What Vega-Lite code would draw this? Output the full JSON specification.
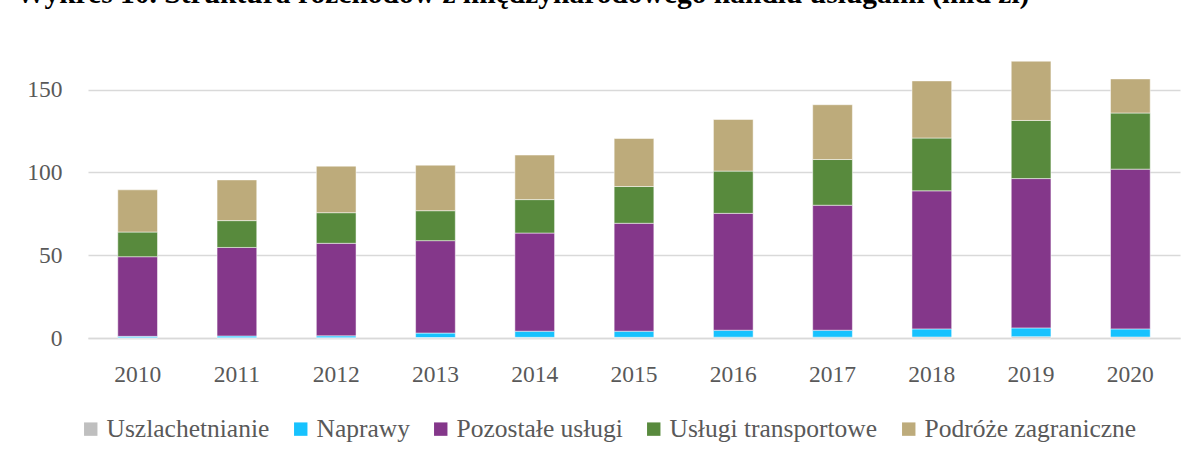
{
  "$schema": "https://vega.github.io/schema/vega-lite/v6.json",
  "autosize": {"type": "none"},
  "padding": {"left": 88, "top": 40, "right": 15, "bottom": 122},
  "width": 1092,
  "height": 298,
  "background": "white",
  "title": {
    "text": "Wykres 10. Struktura rozchodów z międzynarodowego handlu usługami (mld zł)",
    "anchor": "start",
    "frame": "group",
    "orient": "top",
    "baseline": "alphabetic",
    "offset": 27,
    "dx": -72,
    "dy": 19,
    "font": "Liberation Serif",
    "fontSize": 29.5,
    "fontWeight": "bold",
    "color": "#000000"
  },
  "data": {
    "values": [
      {"rok": "2010", "kategoria": "Uszlachetnianie", "o": 1, "wartosc": 0.2},
      {"rok": "2010", "kategoria": "Naprawy", "o": 2, "wartosc": 0.8},
      {"rok": "2010", "kategoria": "Pozostałe usługi", "o": 3, "wartosc": 48.1},
      {"rok": "2010", "kategoria": "Usługi transportowe", "o": 4, "wartosc": 14.9},
      {"rok": "2010", "kategoria": "Podróże zagraniczne", "o": 5, "wartosc": 25.5},
      {"rok": "2011", "kategoria": "Uszlachetnianie", "o": 1, "wartosc": 0.2},
      {"rok": "2011", "kategoria": "Naprawy", "o": 2, "wartosc": 1.0},
      {"rok": "2011", "kategoria": "Pozostałe usługi", "o": 3, "wartosc": 53.5},
      {"rok": "2011", "kategoria": "Usługi transportowe", "o": 4, "wartosc": 16.2},
      {"rok": "2011", "kategoria": "Podróże zagraniczne", "o": 5, "wartosc": 24.6},
      {"rok": "2012", "kategoria": "Uszlachetnianie", "o": 1, "wartosc": 0.2},
      {"rok": "2012", "kategoria": "Naprawy", "o": 2, "wartosc": 1.1},
      {"rok": "2012", "kategoria": "Pozostałe usługi", "o": 3, "wartosc": 55.9},
      {"rok": "2012", "kategoria": "Usługi transportowe", "o": 4, "wartosc": 18.5},
      {"rok": "2012", "kategoria": "Podróże zagraniczne", "o": 5, "wartosc": 28.1},
      {"rok": "2013", "kategoria": "Uszlachetnianie", "o": 1, "wartosc": 0.3},
      {"rok": "2013", "kategoria": "Naprawy", "o": 2, "wartosc": 2.7},
      {"rok": "2013", "kategoria": "Pozostałe usługi", "o": 3, "wartosc": 55.8},
      {"rok": "2013", "kategoria": "Usługi transportowe", "o": 4, "wartosc": 18.1},
      {"rok": "2013", "kategoria": "Podróże zagraniczne", "o": 5, "wartosc": 27.5},
      {"rok": "2014", "kategoria": "Uszlachetnianie", "o": 1, "wartosc": 0.4},
      {"rok": "2014", "kategoria": "Naprawy", "o": 2, "wartosc": 3.7},
      {"rok": "2014", "kategoria": "Pozostałe usługi", "o": 3, "wartosc": 59.3},
      {"rok": "2014", "kategoria": "Usługi transportowe", "o": 4, "wartosc": 20.2},
      {"rok": "2014", "kategoria": "Podróże zagraniczne", "o": 5, "wartosc": 26.9},
      {"rok": "2015", "kategoria": "Uszlachetnianie", "o": 1, "wartosc": 0.4},
      {"rok": "2015", "kategoria": "Naprawy", "o": 2, "wartosc": 3.7},
      {"rok": "2015", "kategoria": "Pozostałe usługi", "o": 3, "wartosc": 65.2},
      {"rok": "2015", "kategoria": "Usługi transportowe", "o": 4, "wartosc": 22.2},
      {"rok": "2015", "kategoria": "Podróże zagraniczne", "o": 5, "wartosc": 29.0},
      {"rok": "2016", "kategoria": "Uszlachetnianie", "o": 1, "wartosc": 0.5},
      {"rok": "2016", "kategoria": "Naprawy", "o": 2, "wartosc": 4.2},
      {"rok": "2016", "kategoria": "Pozostałe usługi", "o": 3, "wartosc": 70.6},
      {"rok": "2016", "kategoria": "Usługi transportowe", "o": 4, "wartosc": 25.5},
      {"rok": "2016", "kategoria": "Podróże zagraniczne", "o": 5, "wartosc": 31.2},
      {"rok": "2017", "kategoria": "Uszlachetnianie", "o": 1, "wartosc": 0.5},
      {"rok": "2017", "kategoria": "Naprawy", "o": 2, "wartosc": 4.2},
      {"rok": "2017", "kategoria": "Pozostałe usługi", "o": 3, "wartosc": 75.5},
      {"rok": "2017", "kategoria": "Usługi transportowe", "o": 4, "wartosc": 27.6},
      {"rok": "2017", "kategoria": "Podróże zagraniczne", "o": 5, "wartosc": 33.1},
      {"rok": "2018", "kategoria": "Uszlachetnianie", "o": 1, "wartosc": 0.6},
      {"rok": "2018", "kategoria": "Naprawy", "o": 2, "wartosc": 4.9},
      {"rok": "2018", "kategoria": "Pozostałe usługi", "o": 3, "wartosc": 83.4},
      {"rok": "2018", "kategoria": "Usługi transportowe", "o": 4, "wartosc": 31.9},
      {"rok": "2018", "kategoria": "Podróże zagraniczne", "o": 5, "wartosc": 34.5},
      {"rok": "2019", "kategoria": "Uszlachetnianie", "o": 1, "wartosc": 0.8},
      {"rok": "2019", "kategoria": "Naprawy", "o": 2, "wartosc": 5.3},
      {"rok": "2019", "kategoria": "Pozostałe usługi", "o": 3, "wartosc": 90.2},
      {"rok": "2019", "kategoria": "Usługi transportowe", "o": 4, "wartosc": 35.1},
      {"rok": "2019", "kategoria": "Podróże zagraniczne", "o": 5, "wartosc": 35.8},
      {"rok": "2020", "kategoria": "Uszlachetnianie", "o": 1, "wartosc": 0.6},
      {"rok": "2020", "kategoria": "Naprawy", "o": 2, "wartosc": 4.9},
      {"rok": "2020", "kategoria": "Pozostałe usługi", "o": 3, "wartosc": 96.5},
      {"rok": "2020", "kategoria": "Usługi transportowe", "o": 4, "wartosc": 33.9},
      {"rok": "2020", "kategoria": "Podróże zagraniczne", "o": 5, "wartosc": 20.6}
    ]
  },
  "mark": {"type": "bar", "stroke": "#ffffff", "strokeWidth": 0.5},
  "encoding": {
    "x": {
      "field": "rok",
      "type": "ordinal",
      "title": null,
      "scale": {"paddingInner": 0.6, "paddingOuter": 0.3},
      "axis": {
        "labelAngle": 0,
        "labelFont": "Liberation Serif",
        "labelFontSize": 23.5,
        "labelColor": "#595959",
        "labelPadding": 24,
        "ticks": false,
        "domainColor": "#D9D9D9",
        "domainWidth": 1.5,
        "grid": false
      }
    },
    "y": {
      "field": "wartosc",
      "type": "quantitative",
      "stack": "zero",
      "title": null,
      "scale": {"domain": [0, 180], "nice": false},
      "axis": {
        "values": [0, 50, 100, 150],
        "labelFont": "Liberation Serif",
        "labelFontSize": 23.5,
        "labelColor": "#595959",
        "labelPadding": 26,
        "ticks": false,
        "domain": false,
        "grid": true,
        "gridColor": "#D9D9D9",
        "gridWidth": 1.5
      }
    },
    "color": {
      "field": "kategoria",
      "type": "nominal",
      "scale": {
        "domain": ["Uszlachetnianie", "Naprawy", "Pozostałe usługi", "Usługi transportowe", "Podróże zagraniczne"],
        "range": ["#BFBFBF", "#17C2FE", "#84378A", "#588A3D", "#BDAB7B"]
      },
      "legend": {
        "title": null,
        "orient": "none",
        "direction": "horizontal",
        "legendX": -10,
        "legendY": 376,
        "symbolType": "square",
        "symbolSize": 180,
        "symbolStrokeWidth": 0,
        "labelFont": "Liberation Serif",
        "labelFontSize": 25.5,
        "labelColor": "#595959",
        "labelOffset": 3,
        "columnPadding": 18,
        "labelLimit": 400
      }
    },
    "order": {"field": "o", "type": "quantitative", "sort": "ascending"}
  },
  "config": {
    "view": {"stroke": null}
  }
}
